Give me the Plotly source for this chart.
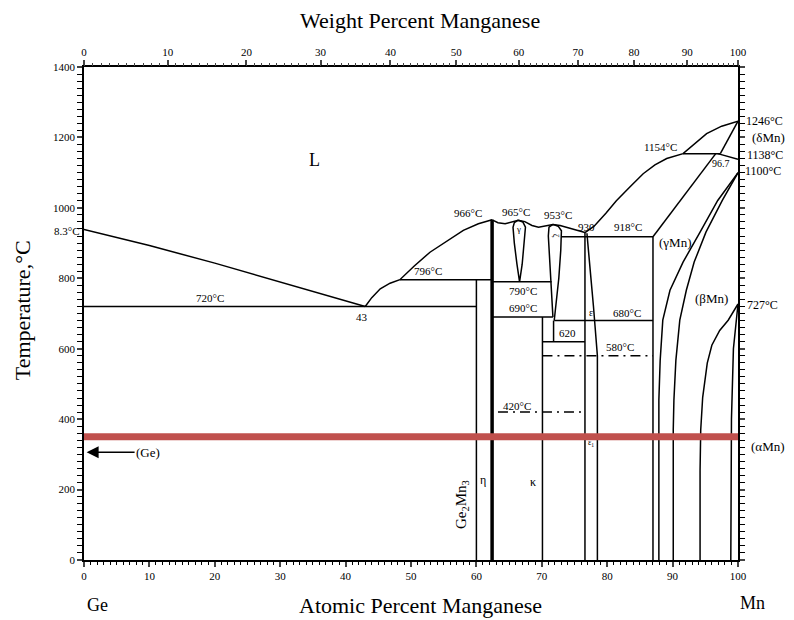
import plotly.graph_objects as go

# ---- Ge-Mn phase boundaries: (atomic % Mn, temperature °C) ----
liquidus_ge = [(0, 938.3), (10, 893), (20, 843), (30, 790), (38, 748), (43, 720)]
liquidus_mid = [(43, 720), (44, 745), (45.3, 770), (46.8, 786), (48.3, 796), (50.5, 835),
                (52.9, 874), (56, 912), (58, 936), (60.3, 955), (62.4, 966)]
liquidus_domes = [(62.4, 966), (63.3, 958), (64.4, 955), (65.5, 960), (66.4, 965), (67.4, 961),
                  (68.5, 950), (69.5, 945), (70.6, 950), (71.7, 953), (72.8, 950), (74.5, 941),
                  (75.6, 934), (76.6, 930)]
liquidus_mn = [(76.6, 930), (78, 948), (79.8, 985), (81.4, 1020), (83.5, 1060), (85.5, 1097),
               (87.3, 1122), (89.1, 1140), (91.6, 1154), (95.2, 1211), (97.5, 1232), (100, 1246)]

dome_965 = [(66.4, 965), (65.8, 958), (65.6, 945), (65.8, 900), (66.2, 840), (66.6, 790),
            (67.0, 840), (67.3, 900), (67.5, 945), (67.1, 960), (66.4, 965)]
dome_953_left = [(71.7, 953), (71.1, 945), (71.0, 920), (71.2, 850), (71.5, 760), (71.7, 690)]
dome_953_right = [(71.7, 953), (72.5, 948), (73.0, 935), (72.9, 880), (72.6, 800), (72.2, 730), (71.9, 680)]

eutectic_720 = [(0, 720), (60, 720)]
peritectic_796 = [(48.3, 796), (62.4, 796)]
iso_790 = [(62.4, 790), (71.5, 790)]
iso_690 = [(62.4, 690), (71.7, 690)]
iso_680 = [(71.9, 680), (87, 680)]
iso_620 = [(70.1, 620), (76.6, 620)]
step_620 = [(71.8, 680), (71.8, 620)]
iso_918 = [(73.0, 918), (87, 918)]
iso_1154 = [(91.6, 1154), (97.3, 1154)]

ge2mn3 = [(60, 0), (60, 796)]
eta = [(62.4, 0), (62.4, 966)]
kappa = [(70.1, 0), (70.1, 690)]
eps_left = [(76.6, 0), (76.6, 930)]
eps_right = [(76.9, 928), (77.1, 880), (77.4, 823), (77.9, 720), (78.3, 640), (78.5, 580), (78.5, 0)]

gamma_left = [(87, 0), (87, 918)]
gamma_solidus = [(87, 918), (91.8, 1036), (96.6, 1154)]
delta_solidus = [(97.3, 1154), (100, 1246)]
delta_gamma = [(96.9, 1154), (100, 1138)]
gamma_beta_a = [(100, 1100), (96.9, 1021), (94.2, 931), (91.6, 846), (89.6, 766), (88.5, 681),
                (88.1, 567), (87.9, 454), (87.9, 0)]
gamma_beta_b = [(100, 1100), (97.6, 1021), (95.1, 931), (93.3, 846), (92.1, 766), (91.1, 681),
                (90.5, 567), (90.2, 454), (90.1, 369), (90.1, 0)]
beta_alpha_a = [(100, 727), (98.5, 681), (97.2, 652), (96.0, 610), (95.3, 559), (94.6, 462),
                (94.3, 369), (94.2, 255), (94.2, 0)]
beta_alpha_b = [(100, 727), (99.3, 600), (99.0, 400), (98.9, 0)]

dashdot_580 = [(70.1, 580), (87, 580)]
dashdot_420 = [(63.3, 420), (76.6, 420)]
marker_350 = [(0, 350), (100, 350)]

# ---- axis ticks ----
at_ticks = list(range(0, 101, 10))
temp_ticks = list(range(0, 1401, 200))
wt_ticks = list(range(0, 101, 10))
wt_minor = list(range(0, 101, 1))

X_RANGE = (0, 100)
T_RANGE = (0, 1400)
M_GE, M_MN = 72.63, 54.938


def wt_to_at(w):
    if w <= 0:
        return 0.0
    if w >= 100:
        return 100.0
    n_mn = w / M_MN
    n_ge = (100 - w) / M_GE
    return 100 * n_mn / (n_mn + n_ge)


SERIF = "Liberation Serif, Times New Roman, serif"
fig = go.Figure()


def add_curve(pts, width=1.5, color="black", dash="solid"):
    fig.add_trace(go.Scatter(
        x=[p[0] for p in pts], y=[p[1] for p in pts], mode="lines",
        line=dict(color=color, width=width, dash=dash),
        hoverinfo="skip", showlegend=False, cliponaxis=False))


for c in [liquidus_ge, liquidus_mid, liquidus_domes, liquidus_mn, dome_965,
          dome_953_left, dome_953_right, eutectic_720, peritectic_796, iso_790, iso_690,
          iso_680, iso_620, step_620, iso_918, iso_1154, ge2mn3, kappa, eps_left, eps_right,
          gamma_left, gamma_solidus, delta_solidus, delta_gamma, gamma_beta_a, gamma_beta_b,
          beta_alpha_a, beta_alpha_b]:
    add_curve(c)

add_curve(eta, width=3.5)
add_curve(dashdot_580, width=1.5, dash="10px,5px,2px,5px")
add_curve(dashdot_420, width=1.5, dash="10px,5px,2px,5px")
add_curve(marker_350, width=7, color="#c0504d")

# top axis (weight percent) ticks placed at their atomic-percent positions
fig.add_trace(go.Scatter(x=[0, 100], y=[0, 0], xaxis="x2", mode="none",
                         hoverinfo="skip", showlegend=False))
fig.add_trace(go.Scatter(x=[0, 100], y=[0, 0], xaxis="x3", mode="none",
                         hoverinfo="skip", showlegend=False))

ann = []


def label(x, y, text, size=11, angle=0, xanchor="center"):
    inside = X_RANGE[0] <= x <= X_RANGE[1] and T_RANGE[0] <= y <= T_RANGE[1]
    if inside:
        pos = dict(x=x, y=y, xref="x", yref="y")
    else:
        # labels beyond the axes are placed in paper space
        pos = dict(x=(x - X_RANGE[0]) / (X_RANGE[1] - X_RANGE[0]),
                   y=(y - T_RANGE[0]) / (T_RANGE[1] - T_RANGE[0]),
                   xref="paper", yref="paper")
    ann.append(dict(**pos, text=text, showarrow=False, textangle=angle, xanchor=xanchor,
                    yanchor="middle", font=dict(family=SERIF, size=size, color="black")))


label(35.3, 1135, "L", 18)
label(-0.3, 933, "8.3°C", 11, xanchor="right")
label(19.3, 745, "720°C")
label(42.5, 690, "43")
label(52.6, 822, "796°C")
label(58.7, 984, "966°C")
label(66.1, 987, "965°C")
label(72.5, 980, "953°C")
label(76.9, 947, "930")
label(83.2, 947, "918°C")
label(67.1, 765, "790°C")
label(67.1, 717, "690°C")
label(83.0, 702, "680°C")
label(74.0, 646, "620")
label(82.0, 606, "580°C")
label(66.2, 436, "420°C")
label(77.5, 703, "ε", 10)
label(66.5, 940, "γ", 9)
label(72.2, 920, "ζ", 9, angle=90)
label(88.1, 1172, "1154°C")
label(97.4, 1126, "96.7", 10)
label(104.1, 1248, "1246°C", 12)
label(104.6, 1200, "(δMn)", 13)
label(104.1, 1150, "1138°C", 12)
label(103.8, 1106, "1100°C", 12)
label(90.4, 902, "(γMn)", 13)
label(96.0, 743, "(βMn)", 13)
label(103.7, 723, "727°C", 12)
label(104.6, 321, "(αMn)", 13)
label(57.8, 156, "Ge<sub>2</sub>Mn<sub>3</sub>", 15, angle=-90)
label(61.0, 227, "η", 12)
label(68.7, 221, "κ", 12)
label(77.5, 332, "ε<sub>1</sub>", 8)
label(2.0, -128, "Ge", 18)
label(102.2, -122, "Mn", 18)
label(51.4, -130, "Atomic Percent Manganese", 22)
label(51.4, 1533, "Weight Percent Manganese", 22)
label(-9.5, 709, "Temperature,°C", 22, angle=-90)

ann.append(dict(x=0.4, y=306, xref="x", yref="y", axref="x", ayref="y", ax=9.8, ay=306,
                text="(Ge)", showarrow=True, arrowhead=2, arrowsize=1.6, arrowwidth=1.5,
                arrowcolor="black", font=dict(family=SERIF, size=13, color="black")))

tick_font = dict(family=SERIF, size=11, color="black")

fig.update_layout(
    width=794, height=620,
    margin=dict(l=84, r=56, t=67, b=60),
    paper_bgcolor="white", plot_bgcolor="white",
    annotations=ann,
    xaxis=dict(range=list(X_RANGE), tickvals=at_ticks, ticks="outside", ticklen=5, tickwidth=1.5,
               showline=True, linecolor="black", linewidth=1.5, showgrid=False, zeroline=False,
               tickfont=tick_font, mirror=False,
               minor=dict(dtick=1, ticks="outside", ticklen=3, tickwidth=1, tickcolor="black")),
    xaxis2=dict(range=list(X_RANGE), overlaying="x", side="top", anchor="y",
                tickvals=[wt_to_at(w) for w in wt_ticks], ticktext=[str(w) for w in wt_ticks],
                ticks="outside", ticklen=5, tickwidth=1.5, showline=True, linecolor="black",
                linewidth=1.5, showgrid=False, zeroline=False, tickfont=tick_font),
    xaxis3=dict(range=list(X_RANGE), overlaying="x", side="top", anchor="y",
                tickvals=[wt_to_at(w) for w in wt_minor], showticklabels=False,
                ticks="outside", ticklen=3, tickwidth=1, showline=False, showgrid=False,
                zeroline=False),
    yaxis=dict(range=list(T_RANGE), tickvals=temp_ticks, ticks="outside", ticklen=5, tickwidth=1.5,
               showline=True, linecolor="black", linewidth=1.5, showgrid=False, zeroline=False,
               mirror="allticks", tickfont=tick_font,
               minor=dict(dtick=20, ticks="outside", ticklen=3, tickwidth=1, tickcolor="black")),
)

fig.write_html("out.html")
